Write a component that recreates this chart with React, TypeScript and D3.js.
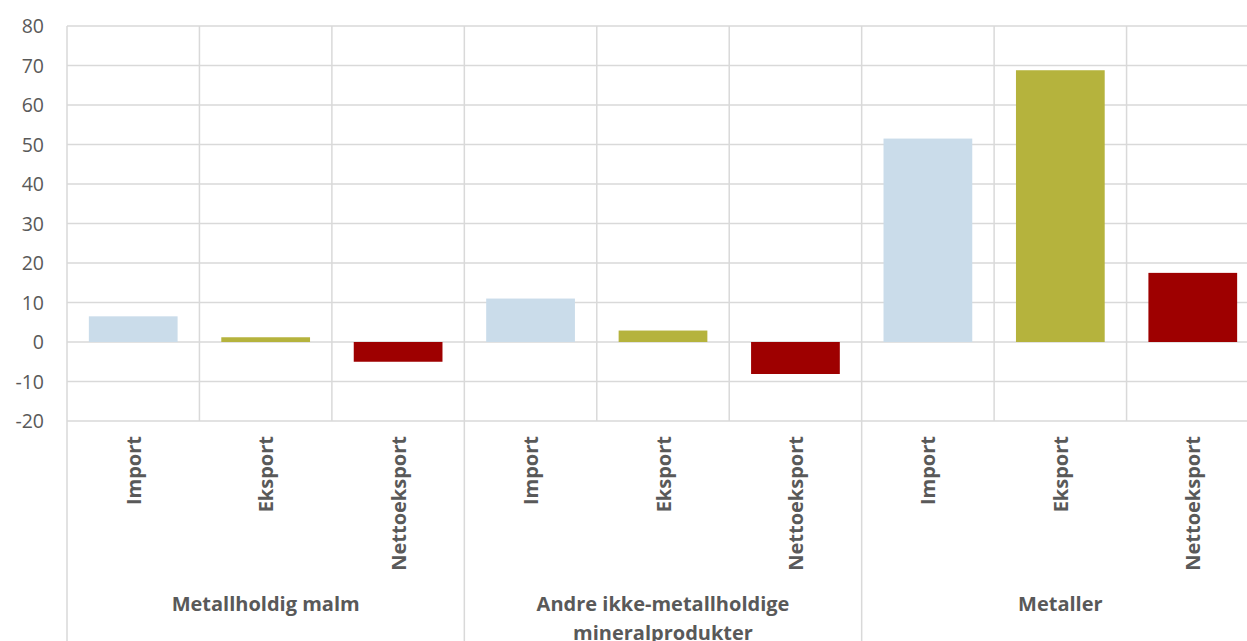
import React from "react";
import * as d3 from "d3";

const groups = ["Metallholdig malm", "Andre ikke-metallholdige mineralprodukter", "Metaller"];
const groupLines = [["Metallholdig malm"], ["Andre ikke-metallholdige", "mineralprodukter"], ["Metaller"]];
const series = ["Import", "Eksport", "Nettoeksport"];
const values = [
  [6.5, 1.2, -5.0],
  [11.0, 2.9, -8.1],
  [51.5, 68.8, 17.5],
];
const colors = ["#CADCEA", "#B5B33D", "#9E0000"];
const yTicks = [-20, -10, 0, 10, 20, 30, 40, 50, 60, 70, 80];

const W = 1247, H = 641;
const left = 67, right = 1259, top = 26, bottom = 421;
const FONT = "'Open Sans', Lato, sans-serif";

export default function App() {
  const cats = groups.flatMap((g, gi) => series.map((s, si) => ({ key: `${gi}-${si}`, g: gi, s: si, label: s, v: values[gi][si] })));
  const x = d3.scaleBand().domain(cats.map(c => c.key)).range([left, right]).paddingInner(0).paddingOuter(0);
  const y = d3.scaleLinear().domain([-20, 80]).range([bottom, top]);
  const bw = x.bandwidth();
  const barW = bw * 0.67;
  const grid = "#D9D9D9";
  return (
    <svg width={W} height={H} style={{ position: "absolute", left: 0, top: 0 }}>
      <rect width={W} height={H} fill="#fff" />
      {yTicks.map(t => (
        <line key={t} x1={left} x2={right} y1={y(t)} y2={y(t)} stroke={grid} strokeWidth={1.5} />
      ))}
      {cats.map((c, i) => (
        <line key={"v" + i} x1={x(c.key)!} x2={x(c.key)!} y1={top} y2={i % 3 === 0 ? H : bottom} stroke={grid} strokeWidth={1.5} />
      ))}
      <line x1={right} x2={right} y1={top} y2={H} stroke={grid} strokeWidth={1.5} />
      {cats.map(c => (
        <rect key={"b" + c.key} x={x(c.key)! + (bw - barW) / 2} width={barW}
          y={y(Math.max(0, c.v))} height={Math.abs(y(c.v) - y(0))} fill={colors[c.s]} />
      ))}
      {yTicks.map(t => (
        <text key={"t" + t} x={44} y={y(t)} dy="0.36em" textAnchor="end" fontFamily={FONT} fontSize={19.5} fill="#595959">{t}</text>
      ))}
      {cats.map(c => {
        const cx = x(c.key)! + bw / 2;
        return (
          <text key={"l" + c.key} transform={`translate(${cx + 7.5},436) rotate(-90)`} textAnchor="end"
            fontFamily={FONT} fontSize={20} fontWeight="bold" fill="#595959">{c.label}</text>
        );
      })}
      {groupLines.map((lines, gi) => {
        const gx = x(`${gi}-1`)! + bw / 2;
        return lines.map((ln, li) => (
          <text key={"g" + gi + li} x={gx} y={611 + li * 29} textAnchor="middle" fontFamily={FONT}
            fontSize={20} fontWeight="bold" fill="#595959">{ln}</text>
        ));
      })}
    </svg>
  );
}
